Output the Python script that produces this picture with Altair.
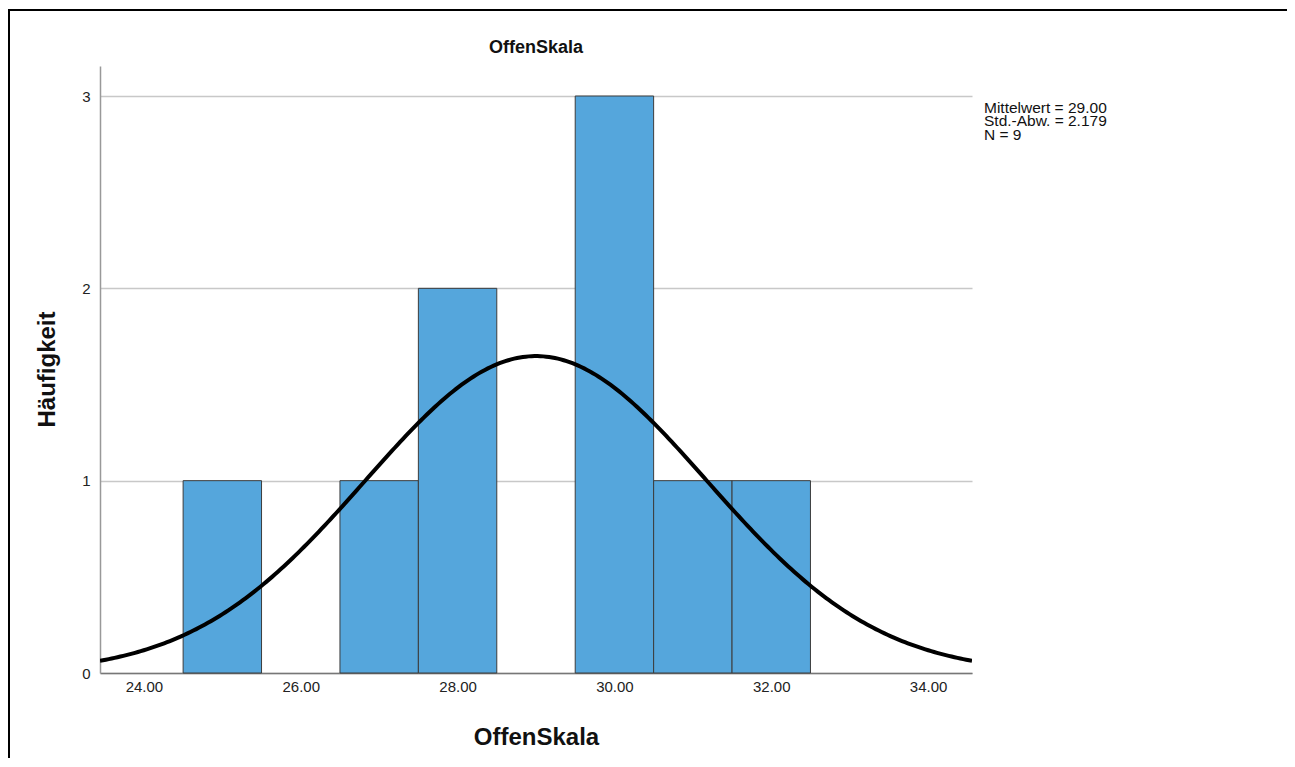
import altair as alt
import numpy as np
import pandas as pd

# Histogram data
bin_start = [24.5, 26.5, 27.5, 29.5, 30.5, 31.5]
bin_end = [25.5, 27.5, 28.5, 30.5, 31.5, 32.5]
counts = [1, 1, 2, 3, 1, 1]

# Summary statistics shown on the chart
mean_val = 29.00
sd_val = 2.179
n_val = 9
bin_width = 1.0

annot_lines = ["Mittelwert = 29.00", "Std.-Abw. = 2.179", "N = 9"]
title_text = "OffenSkala"

x_domain = [23.44, 34.56]
y_domain = [0, 3.156]
x_ticks = [24, 26, 28, 30, 32, 34]
y_ticks = [0, 1, 2, 3]

bars = pd.DataFrame({"start": bin_start, "end": bin_end, "count": counts})

# Fitted normal curve (as SPSS draws it) from the stated mean, SD and N
xs = np.linspace(x_domain[0], x_domain[1], 300)
ys = n_val * bin_width / (sd_val * np.sqrt(2 * np.pi)) * np.exp(-0.5 * ((xs - mean_val) / sd_val) ** 2)
curve = pd.DataFrame({"x": xs, "y": ys})

FONT = "Liberation Sans"

xscale = alt.Scale(domain=x_domain, nice=False, zero=False)
yscale = alt.Scale(domain=y_domain, nice=False)

x_axis = alt.Axis(
    values=x_ticks, format=".2f", grid=False, ticks=False,
    labelFontSize=15, labelPadding=6, labelColor="#222", labelFont=FONT,
    domainColor="#777", domainWidth=1.5,
    title="OffenSkala", titleFontSize=24, titleFont=FONT, titleFontWeight="bold",
    titleColor="#111", titleY=64, titleBaseline="middle",
)
y_axis = alt.Axis(
    values=y_ticks, format="d", grid=True, gridColor="#c8c8c8", gridWidth=1.5,
    ticks=False, labelFontSize=15, labelPadding=10, labelColor="#222", labelFont=FONT,
    domainColor="#999", domainWidth=1.5,
    title="Häufigkeit", titleFontSize=24, titleFont=FONT, titleFontWeight="bold",
    titleColor="#111", titleX=-53, titleY=303, titleAngle=-90,
    titleAlign="center", titleBaseline="middle",
)

bar_layer = alt.Chart(bars).mark_rect(
    color="#55a6dc", stroke="#3c3c3c", strokeWidth=1
).encode(
    x=alt.X("start:Q", scale=xscale, axis=x_axis),
    x2="end:Q",
    y=alt.Y("count:Q", scale=yscale, axis=y_axis),
    y2=alt.datum(0),
)

line_layer = alt.Chart(curve).mark_line(
    color="black", strokeWidth=4, clip=True
).encode(
    x=alt.X("x:Q", scale=xscale),
    y=alt.Y("y:Q", scale=yscale),
)

one = pd.DataFrame({"a": [0]})

annot_layers = []
for i, line in enumerate(annot_lines):
    annot_layers.append(
        alt.Chart(one).mark_text(
            text=line, align="left", baseline="alphabetic", fontSize=15.5,
            font=FONT, color="#111",
        ).encode(x=alt.value(884), y=alt.value(46.5 + 13.6 * i))
    )

title_layer = alt.Chart(one).mark_text(
    text=title_text, align="center", baseline="alphabetic", fontSize=18,
    font=FONT, fontWeight="bold", color="#111",
).encode(x=alt.value(436), y=alt.value(-13))

# outer frame (top and left edges visible in the reference)
frame_top = alt.Chart(one).mark_rule(color="black", strokeWidth=2, clip=False).encode(
    x=alt.value(-91), x2=alt.value(1200), y=alt.value(-56)
)
frame_left = alt.Chart(one).mark_rule(color="black", strokeWidth=2, clip=False).encode(
    x=alt.value(-91), y=alt.value(-57), y2=alt.value(692)
)

chart = alt.layer(
    bar_layer, line_layer, *annot_layers, title_layer, frame_top, frame_left
).properties(
    width=872, height=607,
    background="white",
    autosize=alt.AutoSizeParams(type="none"),
    padding={"left": 92, "top": 58, "right": 315, "bottom": 86},
).configure_view(stroke=None)

chart.save("out.html", embed_options={"renderer": "svg", "actions": False})
